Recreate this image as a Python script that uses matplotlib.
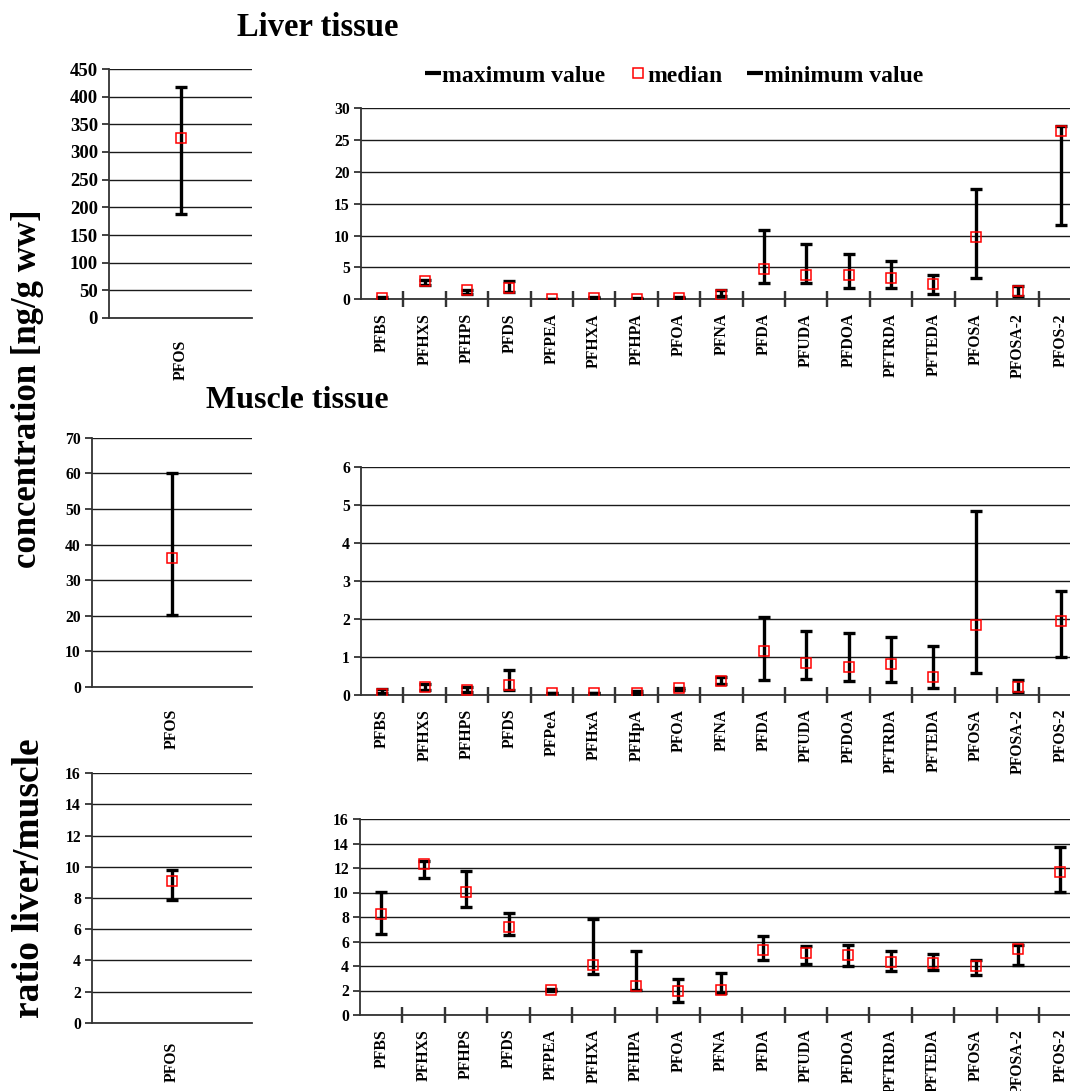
import matplotlib
matplotlib.use("Agg")
import matplotlib.pyplot as plt
from matplotlib.lines import Line2D
from matplotlib.ticker import MultipleLocator, FixedLocator, FixedFormatter, NullFormatter
import numpy as np

plt.rcParams['font.family'] = ['Liberation Serif', 'DejaVu Serif']
plt.rcParams['font.weight'] = 'bold'

cats_liver = ["PFBS", "PFHXS", "PFHPS", "PFDS", "PFPEA", "PFHXA", "PFHPA", "PFOA", "PFNA",
              "PFDA", "PFUDA", "PFDOA", "PFTRDA", "PFTEDA", "PFOSA", "PFOSA-2", "PFOS-2"]
cats_muscle = ["PFBS", "PFHXS", "PFHPS", "PFDS", "PFPeA", "PFHxA", "PFHpA", "PFOA", "PFNA",
               "PFDA", "PFUDA", "PFDOA", "PFTRDA", "PFTEDA", "PFOSA", "PFOSA-2", "PFOS-2"]
cats_ratio = cats_liver

# Liver tissue
liver_max = [0.3, 3.0, 1.4, 2.9, 0.1, 0.4, 0.2, 0.4, 1.45, 10.9, 8.7, 7.1, 6.0, 3.8, 17.4, 2.1, 27.2]
liver_med = [0.2, 2.8, 1.4, 1.85, 0.05, 0.25, 0.1, 0.25, 0.7, 4.8, 3.8, 3.8, 3.3, 2.35, 9.8, 1.35, 26.5]
liver_min = [0.1, 2.2, 0.9, 1.1, 0.0, 0.15, 0.05, 0.15, 0.5, 2.5, 2.5, 1.85, 1.7, 0.9, 3.3, 0.5, 11.7]
liver_pfos = {"max": 417, "med": 325, "min": 188}

# Muscle tissue
muscle_max = [0.15, 0.3, 0.2, 0.66, 0.06, 0.06, 0.1, 0.19, 0.47, 2.05, 1.7, 1.63, 1.53, 1.3, 4.85, 0.4, 2.73]
muscle_med = [0.03, 0.22, 0.13, 0.26, 0.05, 0.05, 0.05, 0.18, 0.37, 1.15, 0.85, 0.74, 0.81, 0.47, 1.84, 0.22, 1.96]
muscle_min = [0.05, 0.13, 0.09, 0.13, 0.04, 0.04, 0.03, 0.12, 0.29, 0.4, 0.43, 0.36, 0.33, 0.18, 0.57, 0.09, 0.99]
muscle_pfos = {"max": 60, "med": 36.1, "min": 20.2}

# Ratio liver/muscle
ratio_max = [10.07, 12.57, 11.76, 8.35, 2.1, 7.84, 5.25, 2.94, 3.46, 6.45, 5.6, 5.69, 5.25, 4.98, 4.52, 5.74, 13.74]
ratio_med = [8.24, 12.35, 10.04, 7.2, 2.04, 4.1, 2.37, 1.99, 2.04, 5.28, 5.09, 4.87, 4.35, 4.22, 4.03, 5.39, 11.65]
ratio_min = [6.64, 11.2, 8.79, 6.53, 2.0, 3.35, 2.04, 1.03, 1.77, 4.49, 4.2, 4.0, 3.59, 3.67, 3.24, 4.11, 10.04]
ratio_pfos = {"max": 9.8, "med": 9.11, "min": 7.87}

W, H = 1070, 1091
fig = plt.figure(figsize=(W / 100, H / 100), dpi=100)

def box(x0, x1, ytop, ybot):
    return [x0 / W, 1 - ybot / H, (x1 - x0) / W, (ybot - ytop) / H]

GRID = '#1a1a1a'
SPINE = '#333333'

def style(ax, ymax, ystep, cats, yfs=11.3, xfs=11.3, xpad=10, boundaries=True):
    ax.set_ylim(0, ymax)
    ax.yaxis.set_major_locator(MultipleLocator(ystep))
    ax.yaxis.grid(True, which='major', color=GRID, lw=1.0)
    ax.xaxis.grid(False)
    ax.set_axisbelow(True)
    for s in ['top', 'right']:
        ax.spines[s].set_visible(False)
    for s in ['left', 'bottom']:
        ax.spines[s].set_color(SPINE)
        ax.spines[s].set_linewidth(1.3)
    n = len(cats)
    ax.set_xlim(-0.5, n - 0.5)
    ax.xaxis.set_minor_locator(FixedLocator(list(range(n))))
    ax.xaxis.set_minor_formatter(FixedFormatter(cats))
    ax.tick_params(axis='x', which='minor', length=0, pad=xpad, labelsize=xfs,
                   labelrotation=90)
    if boundaries and n > 1:
        bounds = np.arange(0.5, n - 0.5, 1.0)
        ax.xaxis.set_major_locator(FixedLocator(list(bounds)))
        ax.tick_params(axis='x', which='major', direction='inout', length=12, width=1.6,
                       color=SPINE)
        # category separators on the x axis (drawn again as markers to be sure they show)
        ax.plot(bounds, np.zeros_like(bounds), linestyle='None', marker='|', markersize=12,
                mew=1.6, color=SPINE, transform=ax.get_xaxis_transform(), clip_on=False,
                zorder=5)
    else:
        ax.xaxis.set_major_locator(FixedLocator([]))
    ax.xaxis.set_major_formatter(NullFormatter())
    ax.tick_params(axis='y', direction='out', length=5, width=1.3, color=SPINE,
                   labelsize=yfs, pad=3)
    ax.set_xlim(-0.5, n - 0.5)
    ax.set_ylim(0, ymax)

def draw(ax, mx, med, mn):
    mx = np.asarray(mx, float)
    mn = np.asarray(mn, float)
    med = np.asarray(med, float)
    x = np.arange(len(mx))
    mid = (mx + mn) / 2
    half = (mx - mn) / 2
    ax.errorbar(x, mid, yerr=half, fmt='none', ecolor='black', elinewidth=2.4,
                capsize=4.5, capthick=2.4, zorder=3)
    ax.plot(x, med, linestyle='None', marker='s', markersize=7.5, mfc='none',
            mec='red', mew=1.1, zorder=4)

panels = [
    (box(109, 252, 69, 318), [liver_pfos["max"]], [liver_pfos["med"]], [liver_pfos["min"]],
     450, 50, ["PFOS"], dict(yfs=13.5, xpad=16, boundaries=False)),
    (box(361, 1081.7, 108.3, 299.3), liver_max, liver_med, liver_min, 30, 5, cats_liver, {}),
    (box(92, 252, 437.7, 687), [muscle_pfos["max"]], [muscle_pfos["med"]], [muscle_pfos["min"]],
     70, 10, ["PFOS"], dict(xpad=16, boundaries=False)),
    (box(361, 1081.7, 467.4, 695), muscle_max, muscle_med, muscle_min, 6, 1, cats_muscle, {}),
    (box(92, 252, 773.3, 1022.7), [ratio_pfos["max"]], [ratio_pfos["med"]], [ratio_pfos["min"]],
     16, 2, ["PFOS"], dict(xpad=14, boundaries=False)),
    (box(360, 1081.7, 819, 1015), ratio_max, ratio_med, ratio_min, 16, 2, cats_ratio, {}),
]

for pos, mx, md, mn, ymax, ystep, cats, kw in panels:
    ax = fig.add_axes(pos)
    draw(ax, mx, md, mn)
    style(ax, ymax, ystep, cats, **kw)

# Titles
fig.text(318 / W, 1 - 28 / H, "Liver tissue", ha='center', va='center', fontsize=23.5, fontweight='bold')
fig.text(297 / W, 1 - 401 / H, "Muscle tissue", ha='center', va='center', fontsize=23, fontweight='bold')
fig.text(28 / W, 1 - 389 / H, "concentration [ng/g ww]", rotation=90, ha='center', va='center',
         fontsize=25, fontweight='bold')
fig.text(30 / W, 1 - 878 / H, "ratio liver/muscle", rotation=90, ha='center', va='center',
         fontsize=27, fontweight='bold')

# Legend
handles = [
    Line2D([], [], linestyle='None', marker='_', color='black', markersize=11, mew=3),
    Line2D([], [], linestyle='None', marker='s', markersize=7.5, mfc='none', mec='red', mew=1.1),
    Line2D([], [], linestyle='None', marker='_', color='black', markersize=11, mew=3),
]
fig.legend(handles, ["maximum value", "median", "minimum value"], loc='center',
           bbox_to_anchor=(675 / W, 1 - 76 / H), ncol=3, frameon=False,
           prop={'family': 'Liberation Serif', 'weight': 'bold', 'size': 17},
           handlelength=0.55, handletextpad=0.12, columnspacing=1.1)

fig.savefig("out.png", dpi=100)
